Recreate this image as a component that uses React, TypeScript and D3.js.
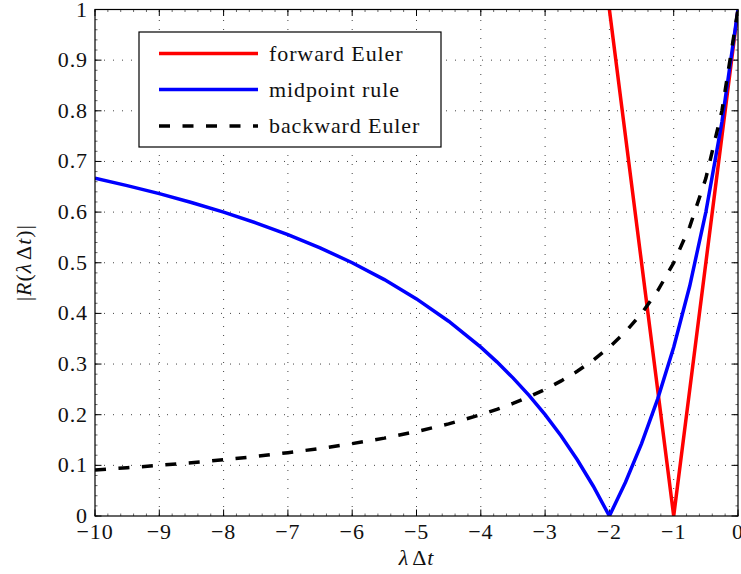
import React from "react";
import * as d3 from "d3";

// Sample points on the negative real axis (λΔt)
const lambdaDt = [
  -10, -9.5, -9, -8.5, -8, -7.5, -7, -6.5, -6, -5.5, -5, -4.5, -4, -3.75, -3.5, -3.25, -3,
  -2.75, -2.5, -2.25, -2, -1.75, -1.5, -1.25, -1, -0.75, -0.5, -0.25, 0,
];

// |R(λΔt)| of the midpoint rule
const midpointAmp = [
  0.6667, 0.6522, 0.6364, 0.619, 0.6, 0.5789, 0.5556, 0.5294, 0.5, 0.4667, 0.4286, 0.3846,
  0.3333, 0.3043, 0.2727, 0.2381, 0.2, 0.1579, 0.1111, 0.0588, 0, 0.0667, 0.1429, 0.2308,
  0.3333, 0.4545, 0.6, 0.7778, 1,
];

// |R(λΔt)| of backward Euler
const backwardAmp = [
  0.0909, 0.0952, 0.1, 0.1053, 0.1111, 0.1176, 0.125, 0.1333, 0.1429, 0.1538, 0.1667,
  0.1818, 0.2, 0.2105, 0.2222, 0.2353, 0.25, 0.2667, 0.2857, 0.3077, 0.3333, 0.3636, 0.4,
  0.4444, 0.5, 0.5714, 0.6667, 0.8, 1,
];

// |R(λΔt)| of forward Euler (piecewise linear)
const forwardX = [-2, -1, 0];
const forwardAmp = [1, 0, 1];

const xTicks = [-10, -9, -8, -7, -6, -5, -4, -3, -2, -1, 0];
const yTicks = [0, 0.1, 0.2, 0.3, 0.4, 0.5, 0.6, 0.7, 0.8, 0.9, 1];
const xTickLabels = ["\u221210", "\u22129", "\u22128", "\u22127", "\u22126", "\u22125", "\u22124", "\u22123", "\u22122", "\u22121", "0"];
const yTickLabels = ["0", "0.1", "0.2", "0.3", "0.4", "0.5", "0.6", "0.7", "0.8", "0.9", "1"];

const legendLabels = ["forward Euler", "midpoint rule", "backward Euler"];

const W = 741;
const H = 574;
const L = 95;
const R = 738;
const T = 9.5;
const B = 516;
const FONT = '"Liberation Serif", "DejaVu Serif", serif';
const FS = 22;

export default function App() {
  const x = d3.scaleLinear().domain([-10, 0]).range([L, R]);
  const y = d3.scaleLinear().domain([0, 1]).range([B, T]);

  const line = d3
    .line<[number, number]>()
    .x((d) => x(d[0]))
    .y((d) => y(d[1]));

  const fwd = forwardX.map((v, i) => [v, forwardAmp[i]] as [number, number]);
  const mid = lambdaDt.map((v, i) => [v, midpointAmp[i]] as [number, number]);
  const bwd = lambdaDt.map((v, i) => [v, backwardAmp[i]] as [number, number]);

  const minorX = d3.range(-10, 0.0001, 0.2).map((v) => +v.toFixed(2));
  const minorY = d3.range(0, 1.0001, 0.02).map((v) => +v.toFixed(3));

  const series = [
    { d: fwd, color: "#ff0000", dash: undefined as string | undefined },
    { d: mid, color: "#0000ff", dash: undefined as string | undefined },
    { d: bwd, color: "#000000", dash: "11 12.5" },
  ];

  const legX = 139;
  const legY = 32;
  const legW = 302;
  const legH = 115;
  const rowY = [53.5, 89.5, 126];
  const txt = { fontFamily: FONT, fontSize: FS, letterSpacing: "0.9px" };

  return (
    <svg width={W} height={H} style={{ display: "block", position: "absolute", left: 0, top: 0 }}>
      <rect x={0} y={0} width={W} height={H} fill="#fff" />
      <defs>
        <clipPath id="plotArea">
          <rect x={L} y={T} width={R - L} height={B - T} />
        </clipPath>
      </defs>

      {/* dotted grid */}
      <g stroke="#444" strokeWidth={1} strokeDasharray="1 8">
        {xTicks.slice(1, -1).map((t) => (
          <line key={"gx" + t} x1={x(t)} x2={x(t)} y1={B} y2={T} />
        ))}
        {yTicks.slice(1, -1).map((t) => (
          <line key={"gy" + t} x1={L} x2={R} y1={y(t)} y2={y(t)} />
        ))}
      </g>

      {/* minor ticks */}
      <g stroke="#000" strokeWidth={0.6}>
        {minorX.map((t) => (
          <g key={"mx" + t}>
            <line x1={x(t)} x2={x(t)} y1={B} y2={B - 2.5} />
            <line x1={x(t)} x2={x(t)} y1={T} y2={T + 2.5} />
          </g>
        ))}
        {minorY.map((t) => (
          <g key={"my" + t}>
            <line x1={L} x2={L + 2.5} y1={y(t)} y2={y(t)} />
            <line x1={R} x2={R - 2.5} y1={y(t)} y2={y(t)} />
          </g>
        ))}
      </g>

      {/* major ticks */}
      <g stroke="#000" strokeWidth={1}>
        {xTicks.map((t) => (
          <g key={"tx" + t}>
            <line x1={x(t)} x2={x(t)} y1={B} y2={B - 6.5} />
            <line x1={x(t)} x2={x(t)} y1={T} y2={T + 6.5} />
          </g>
        ))}
        {yTicks.map((t) => (
          <g key={"ty" + t}>
            <line x1={L} x2={L + 6.5} y1={y(t)} y2={y(t)} />
            <line x1={R} x2={R - 6.5} y1={y(t)} y2={y(t)} />
          </g>
        ))}
      </g>

      {/* curves */}
      <g clipPath="url(#plotArea)" fill="none">
        {series.map((s, i) => (
          <path
            key={i}
            d={line(s.d) || ""}
            stroke={s.color}
            strokeWidth={3.5}
            strokeDasharray={s.dash}
            strokeLinejoin="miter"
          />
        ))}
      </g>

      {/* axes box */}
      <rect x={L} y={T} width={R - L} height={B - T} fill="none" stroke="#000" strokeWidth={1.2} />

      {/* tick labels */}
      <g fill="#111" style={txt}>
        {xTicks.map((t, i) => (
          <text key={"lx" + t} x={x(t)} y={539} textAnchor="middle">
            {xTickLabels[i]}
          </text>
        ))}
        {yTicks.map((t, i) => (
          <text key={"ly" + t} x={88} y={y(t) + 7} textAnchor="end">
            {yTickLabels[i]}
          </text>
        ))}
      </g>

      {/* axis labels */}
      <text x={(L + R) / 2} y={565} textAnchor="middle" fill="#111" style={txt}>
        <tspan fontStyle="italic">λ</tspan>
        <tspan dx={3}>Δ</tspan>
        <tspan fontStyle="italic">t</tspan>
      </text>
      <text
        transform={`translate(31, ${(T + B) / 2}) rotate(-90)`}
        textAnchor="middle"
        fill="#111"
        style={txt}
      >
        <tspan>|</tspan>
        <tspan fontStyle="italic">R</tspan>
        <tspan>(</tspan>
        <tspan fontStyle="italic">λ</tspan>
        <tspan dx={3}>Δ</tspan>
        <tspan fontStyle="italic">t</tspan>
        <tspan>)|</tspan>
      </text>

      {/* legend */}
      <rect x={legX} y={legY} width={legW} height={legH} fill="#fff" stroke="#000" strokeWidth={1.2} />
      {series.map((s, i) => (
        <g key={"leg" + i}>
          <line
            x1={159}
            x2={258}
            y1={rowY[i]}
            y2={rowY[i]}
            stroke={s.color}
            strokeWidth={3.5}
            strokeDasharray={s.dash}
          />
          <text x={269} y={rowY[i] + 7} fill="#111" style={txt}>
            {legendLabels[i]}
          </text>
        </g>
      ))}
    </svg>
  );
}
